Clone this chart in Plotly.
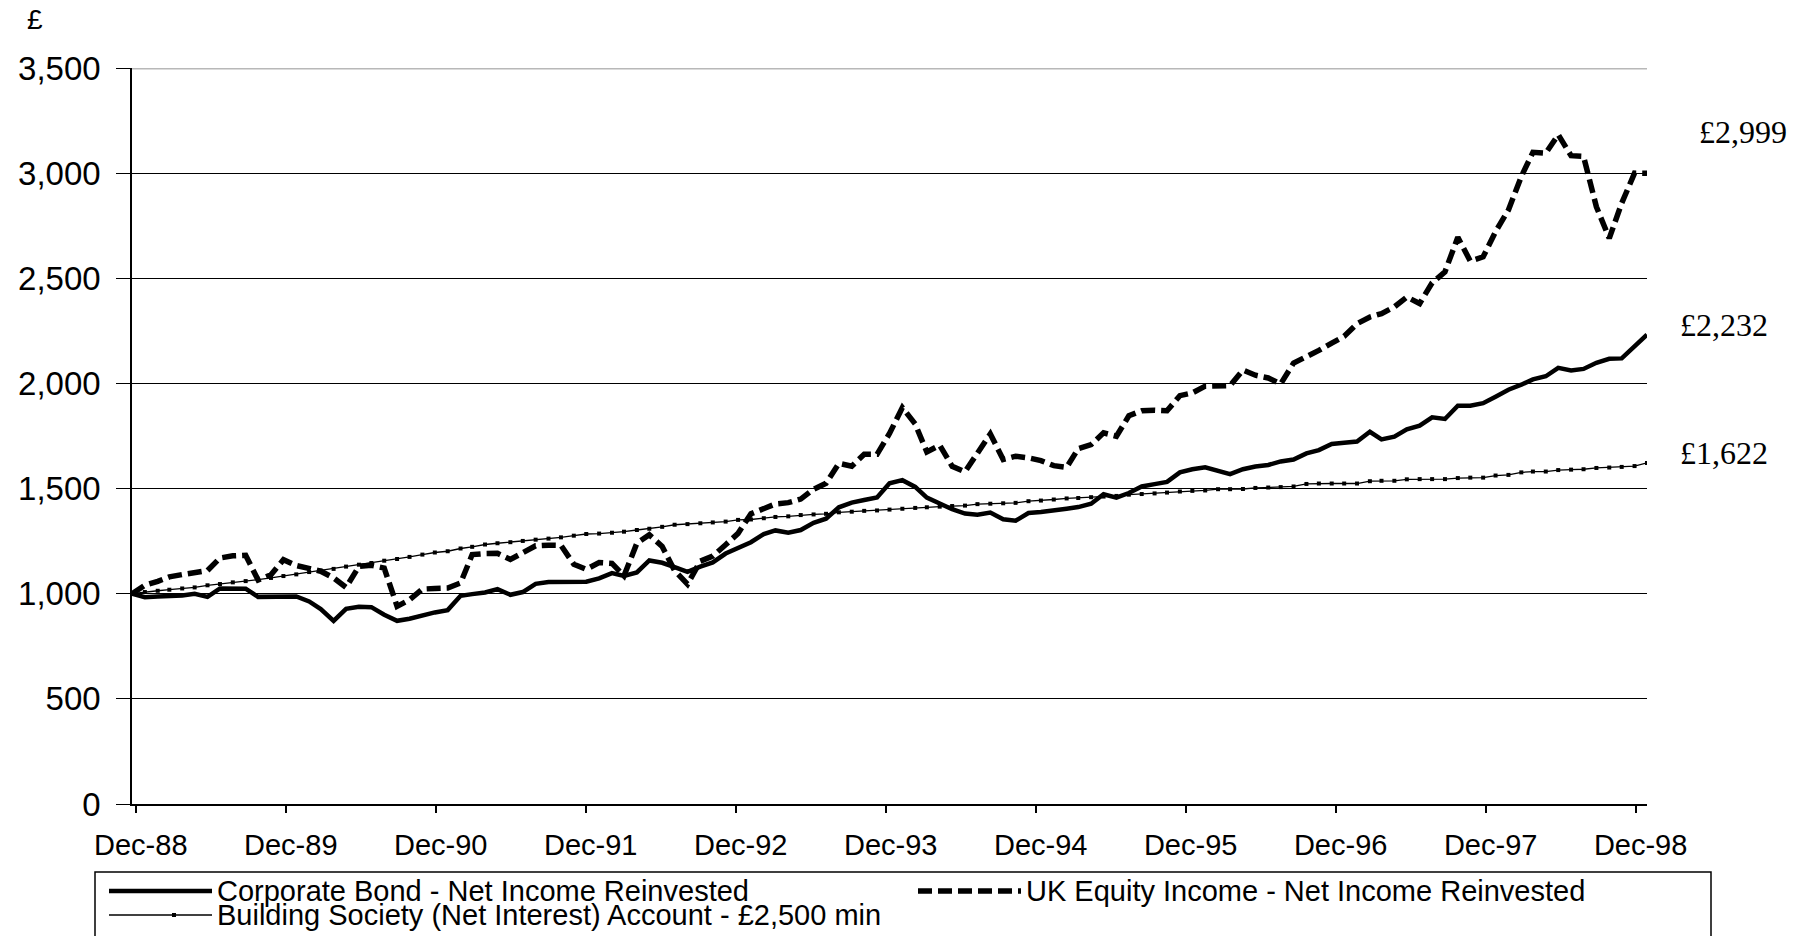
import pandas as pd
import plotly.graph_objects as go

# monthly observations, Dec-88 .. Dec-98
months = pd.date_range("1988-12-01", "1998-12-01", freq="MS")

corporate_bond = [
    1000, 983, 987, 989, 992, 1000, 985, 1025, 1025, 1024,
    985, 987, 989, 987, 963, 927, 871, 928, 938, 936,
    900, 871, 881, 897, 911, 922, 990, 998, 1006, 1022,
    995, 1008, 1047, 1056, 1057, 1057, 1057, 1073, 1098, 1085,
    1101, 1158, 1147, 1126, 1104, 1129, 1149, 1191, 1217, 1245,
    1284, 1301, 1290, 1303, 1337, 1357, 1411, 1433, 1446, 1458,
    1525, 1540, 1508, 1457, 1429, 1402, 1381, 1376, 1386, 1354,
    1347, 1384, 1389, 1399, 1404, 1412, 1428, 1473, 1457, 1479,
    1510, 1521, 1532, 1577, 1592, 1601, 1582, 1569, 1592, 1605,
    1612, 1629, 1638, 1667, 1683, 1712, 1718, 1724, 1770, 1734,
    1747, 1782, 1799, 1839, 1831, 1894, 1894, 1906, 1937, 1970,
    1994, 2019, 2034, 2074, 2062, 2069, 2098, 2117, 2119, 2173,
    2232,
]

uk_equity_income = [
    1000, 1040, 1059, 1080, 1091, 1103, 1110, 1170, 1180, 1183,
    1065, 1090, 1162, 1134, 1119, 1107, 1075, 1030, 1130, 1135,
    1122, 940, 971, 1022, 1025, 1027, 1051, 1186, 1191, 1192,
    1163, 1194, 1228, 1231, 1230, 1140, 1116, 1148, 1144, 1085,
    1240, 1280, 1225, 1110, 1045, 1155, 1179, 1233, 1287, 1380,
    1404, 1427, 1433, 1450, 1497, 1525, 1620, 1606, 1663, 1663,
    1762, 1885, 1807, 1674, 1706, 1606, 1580, 1674, 1760, 1638,
    1654, 1646, 1633, 1609, 1601, 1690, 1709, 1765, 1749, 1846,
    1870, 1873, 1870, 1942, 1955, 1987, 1987, 1990, 2064, 2039,
    2026, 1998, 2097, 2125, 2157, 2192, 2224, 2284, 2316, 2332,
    2364, 2411, 2380, 2478, 2531, 2695, 2582, 2602, 2722, 2825,
    2984, 3099, 3095, 3183, 3083, 3080, 2840, 2690, 2857, 3000,
    2999,
]

building_society = [
    1000, 1008, 1014, 1019, 1025, 1030, 1040, 1046, 1054, 1060,
    1067, 1075, 1084, 1092, 1103, 1110, 1118, 1129, 1138, 1146,
    1157, 1165, 1175, 1186, 1196, 1202, 1215, 1223, 1234, 1240,
    1245, 1251, 1257, 1262, 1268, 1276, 1284, 1286, 1290, 1295,
    1303, 1309, 1318, 1328, 1331, 1335, 1339, 1343, 1351, 1353,
    1359, 1365, 1368, 1374, 1377, 1380, 1387, 1390, 1394, 1396,
    1400, 1404, 1408, 1411, 1414, 1417, 1419, 1426, 1428, 1430,
    1432, 1440, 1443, 1448, 1453, 1455, 1459, 1462, 1465, 1471,
    1474, 1477, 1481, 1486, 1489, 1491, 1497, 1497, 1498, 1503,
    1505, 1507, 1510, 1522, 1524, 1524, 1524, 1524, 1535, 1537,
    1537, 1544, 1545, 1545, 1545, 1550, 1552, 1552, 1562, 1565,
    1577, 1581, 1581, 1588, 1590, 1592, 1598, 1600, 1603, 1607,
    1622,
]

assert len(corporate_bond) == len(uk_equity_income) == len(building_society) == len(months)

series_names = [
    "Corporate Bond - Net Income Reinvested",
    "UK Equity Income - Net Income Reinvested",
    "Building Society (Net Interest) Account - £2,500 min",
]
end_labels = ["£2,232", "£2,999", "£1,622"]
x_tick_labels = ["Dec-88", "Dec-89", "Dec-90", "Dec-91", "Dec-92", "Dec-93",
                 "Dec-94", "Dec-95", "Dec-96", "Dec-97", "Dec-98"]
y_ticks = list(range(0, 3501, 500))

W, H = 1800, 936
L, R, T, B = 132, 153, 68, 132
PW, PH = W - L - R, H - T - B
SANS = "Arial, Liberation Sans, sans-serif"
SERIF = "Times New Roman, Liberation Serif, serif"
EQ_DASH = "14px,6px"


def px(x):
    # pixel column -> paper x
    return (x - L) / PW


def py(y):
    # pixel row (from top) -> paper y
    return (H - B - y) / PH


# the original category axis puts its yearly ticks slightly inside the data span
span = months[-1] - months[0]
tick_pos = [months[0] + span * ((0.3 + 11.88 * i) / 120.0) for i in range(len(x_tick_labels))]

fig = go.Figure()
fig.add_trace(go.Scatter(x=months, y=building_society, name=series_names[2], mode="lines+markers",
                         line=dict(color="black", width=1.3),
                         marker=dict(symbol="square", size=4, color="black")))
fig.add_trace(go.Scatter(x=months, y=uk_equity_income, name=series_names[1], mode="lines",
                         line=dict(color="black", width=5.5, dash=EQ_DASH)))
fig.add_trace(go.Scatter(x=months, y=corporate_bond, name=series_names[0], mode="lines",
                         line=dict(color="black", width=4.5)))

fig.update_layout(
    width=W,
    height=H,
    showlegend=False,
    paper_bgcolor="white",
    plot_bgcolor="white",
    font=dict(family=SANS, size=29, color="black"),
    margin=dict(l=L, r=R, t=T, b=B, pad=0),
)
fig.update_xaxes(
    range=[months[0], months[-1]],
    tickvals=tick_pos,
    ticktext=x_tick_labels,
    ticks="outside",
    ticklen=7,
    tickwidth=1.5,
    tickcolor="black",
    ticklabelstandoff=7,
    ticklabelshift=5,
    tickfont=dict(size=29),
    showline=True,
    linecolor="black",
    linewidth=1.5,
    showgrid=False,
    zeroline=False,
)
fig.update_yaxes(
    range=[0, 3500],
    tickvals=y_ticks,
    tickformat=",",
    ticks="outside",
    ticklen=14,
    tickcolor="black",
    ticklabelstandoff=9,
    tickfont=dict(size=33),
    showline=True,
    linecolor="black",
    linewidth=1.5,
    gridcolor="black",
    gridwidth=1,
    zeroline=False,
)

# grey border along the top of the plot area
fig.add_shape(type="line", xref="paper", yref="y", x0=0, x1=1, y0=3500, y1=3500,
              line=dict(color="#b8b8b8", width=3))

# final values
for vals, label, xs, ys in [(corporate_bond, end_labels[0], 31, 10),
                            (uk_equity_income, end_labels[1], 50, 41),
                            (building_society, end_labels[2], 31, 10)]:
    fig.add_annotation(x=months[-1], y=vals[-1], text=label, showarrow=False,
                       xanchor="left", yanchor="middle", xshift=xs, yshift=ys,
                       font=dict(family=SERIF, size=32, color="black"))

fig.add_annotation(x=px(35), y=py(20), xref="paper", yref="paper", text="£", showarrow=False,
                   xanchor="center", yanchor="middle", font=dict(size=28))

# legend box, drawn by hand so the line samples can be long
fig.add_shape(type="rect", xref="paper", yref="paper", x0=px(95), x1=px(1711), y0=py(955), y1=py(872),
              line=dict(color="black", width=1.5), fillcolor="rgba(0,0,0,0)")
legend_rows = [
    (series_names[0], 109, 891, dict(color="black", width=4.5)),
    (series_names[1], 918, 891, dict(color="black", width=5.5, dash=EQ_DASH)),
    (series_names[2], 109, 915, dict(color="black", width=1.3)),
]
for name, x0, y0, ln in legend_rows:
    fig.add_shape(type="line", xref="paper", yref="paper", x0=px(x0), x1=px(x0 + 103),
                  y0=py(y0), y1=py(y0), line=ln)
    fig.add_annotation(x=px(x0 + 106), y=py(y0), xref="paper", yref="paper", text=name,
                       showarrow=False, xanchor="left", yanchor="middle", font=dict(size=29))
fig.add_shape(type="rect", xref="paper", yref="paper", x0=px(172), x1=px(176), y0=py(917), y1=py(913),
              line=dict(width=0), fillcolor="black")

# page body has a default margin; drop it so the figure sits at the window origin
fig.write_html("out.html", config={"displayModeBar": False},
               post_script="document.body.style.margin='0';")
